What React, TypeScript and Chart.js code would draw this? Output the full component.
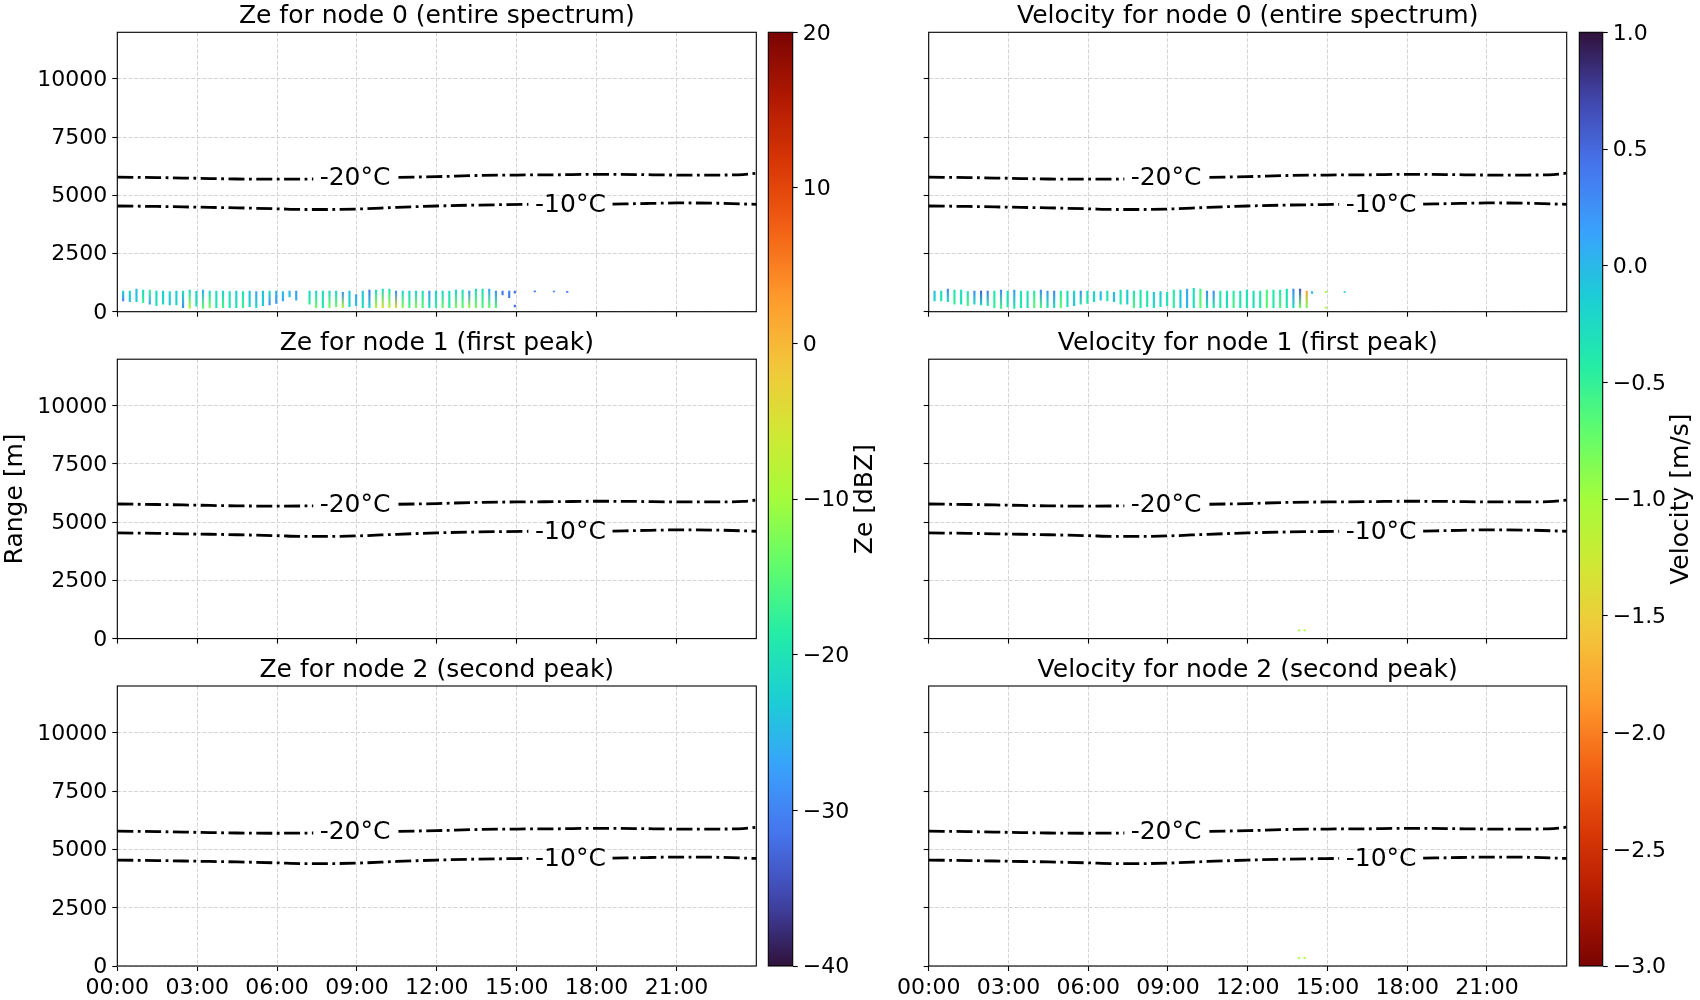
import React, { useEffect, useRef } from 'react';
import { Chart, registerables } from 'chart.js';

Chart.register(...registerables);

const FONT = 'DejaVu Sans';
Chart.defaults.font.family = FONT;
Chart.defaults.color = '#000';

// ---------------- data ----------------
const X_TICK_HOURS = [0, 3, 6, 9, 12, 15, 18, 21];
const X_TICK_LABELS = ['00:00', '03:00', '06:00', '09:00', '12:00', '15:00', '18:00', '21:00'];
const RANGE_TICKS = [0, 2500, 5000, 7500, 10000];
const RANGE_TICK_LABELS = ['0', '2500', '5000', '7500', '10000'];
const HOUR_MIN = 0;
const HOUR_MAX = 24;
const RANGE_MIN = 0;
const RANGE_MAX = 12000;

const ZE_MIN = -40;
const ZE_MAX = 20;
const ZE_CB_TICKS = [-40, -30, -20, -10, 0, 10, 20];
const ZE_CB_LABELS = ['\u221240', '\u221230', '\u221220', '\u221210', '0', '10', '20'];
const VEL_MIN = -3;
const VEL_MAX = 1;
const VEL_CB_TICKS = [-3, -2.5, -2, -1.5, -1, -0.5, 0, 0.5, 1];
const VEL_CB_LABELS = ['\u22123.0', '\u22122.5', '\u22122.0', '\u22121.5', '\u22121.0', '\u22120.5', '0.0', '0.5', '1.0'];

// isotherms (two pieces each, interrupted by the inline label)
const ISO20_A_HOURS = [0, 1.5, 3, 4.5, 6, 7.36];
const ISO20_A_RANGE = [5780, 5760, 5730, 5700, 5690, 5700];
const ISO20_B_HOURS = [10.56, 12, 13.5, 15, 16.5, 18, 19.5, 21, 22.5, 23.5, 24];
const ISO20_B_RANGE = [5770, 5800, 5850, 5870, 5880, 5900, 5890, 5870, 5870, 5890, 5950];
const ISO10_A_HOURS = [0, 1.5, 3, 4.5, 6, 7, 8, 9, 10.5, 12, 13.5, 15.44];
const ISO10_A_RANGE = [4540, 4520, 4490, 4460, 4420, 4390, 4390, 4410, 4480, 4540, 4580, 4610];
const ISO10_B_HOURS = [18.6, 20, 21, 22.5, 24];
const ISO10_B_RANGE = [4620, 4650, 4670, 4660, 4610];
const ISO_LABEL_TEXT = ['-20\u00b0C', '-10\u00b0C'];
const ISO_LABEL_HOURS = [8.93, 17.02];
const ISO_LABEL_RANGE = [5730, 4550];

// Ze node 0 profiles: time [h], base [m], top [m], Ze at base, Ze at top [dBZ]
const ZE0_HOURS = [0.22, 0.47, 0.72, 0.97, 1.22, 1.47, 1.72, 1.97, 2.22, 2.47, 2.72, 2.97, 3.22, 3.47, 3.72, 3.97, 4.22, 4.47, 4.72, 4.97, 5.22, 5.47, 5.72, 5.97, 6.22, 6.47, 6.72,
  7.22, 7.47, 7.72, 7.97, 8.22, 8.47, 8.72, 8.97, 9.22, 9.47, 9.72, 9.97, 10.22, 10.47, 10.72, 10.97, 11.22, 11.47, 11.72, 11.97, 12.22, 12.47, 12.72, 12.97, 13.22, 13.47, 13.72, 13.97, 14.22, 14.47, 14.72, 14.93,
  14.93, 15.68, 16.4, 16.9];
const ZE0_BASE = [460, 430, 430, 390, 320, 260, 320, 290, 290, 170, 145, 240, 145, 170, 170, 170, 170, 170, 170, 215, 170, 260, 290, 360, 460, 640, 500,
  320, 170, 170, 170, 215, 170, 215, 260, 170, 170, 170, 170, 170, 170, 170, 170, 170, 170, 170, 170, 170, 170, 170, 170, 170, 170, 170, 170, 170, 720, 600, 800,
  200, 850, 850, 830];
const ZE0_TOP = [890, 890, 970, 930, 930, 890, 890, 860, 890, 890, 930, 880, 930, 890, 890, 890, 860, 890, 860, 890, 860, 890, 890, 890, 860, 890, 890,
  890, 890, 890, 890, 890, 830, 890, 740, 890, 930, 930, 970, 970, 890, 890, 890, 890, 890, 890, 890, 890, 890, 930, 930, 890, 970, 970, 970, 890, 890, 890, 890,
  280, 900, 890, 880];
const ZE0_LOW = [-30, -24, -23, -17, -27, -20, -21, -24, -22, -29, -9, -20, -14, -13, -19, -16, -19, -20, -17, -22, -21, -23, -29, -28, -27, -24, -26,
  -18, -14, -19, -13, -14, -9, -21, -24, -20, -22, -8, -5, -8, -4, -12, -16, -12, -15, -20, -18, -14, -18, -13, -14, -11, -13, -15, -14, -15, -31, -31, -32,
  -32, -31, -30, -31];
const ZE0_HIGH = [-22, -22, -25, -21, -17, -22, -23, -22, -23, -20, -22, -22, -26, -22, -21, -22, -21, -23, -20, -24, -27, -24, -21, -25, -24, -26, -28,
  -22, -22, -21, -22, -22, -29, -24, -27, -24, -31, -21, -21, -20, -29, -22, -22, -22, -21, -28, -22, -22, -21, -22, -21, -28, -21, -21, -27, -29, -31, -30, -32,
  -32, -31, -30, -31];

// Velocity node 0 profiles: time [h], base [m], top [m], velocity at base, velocity at top [m/s]
const VEL0_HOURS = [0.22, 0.47, 0.72, 0.97, 1.22, 1.47, 1.72, 1.97, 2.22, 2.47, 2.72, 2.97, 3.22, 3.47, 3.72, 3.97, 4.22, 4.47, 4.72, 4.97,
  5.22, 5.47, 5.72, 5.97, 6.22, 6.47, 6.72, 6.97, 7.22, 7.47, 7.72, 7.97, 8.22, 8.47, 8.72, 8.97, 9.22, 9.47, 9.72, 9.97,
  10.22, 10.47, 10.72, 10.97, 11.22, 11.47, 11.72, 11.97, 12.22, 12.47, 12.72, 12.97, 13.22, 13.47, 13.72, 13.97, 14.22,
  14.42, 14.94, 14.94, 15.65];
const VEL0_BASE = [460, 460, 430, 320, 320, 260, 320, 290, 260, 170, 145, 200, 145, 170, 170, 170, 170, 170, 170, 170,
  215, 260, 320, 360, 430, 500, 460, 430, 320, 320, 170, 170, 215, 170, 215, 260, 170, 170, 170, 170,
  170, 170, 170, 170, 170, 170, 170, 170, 170, 170, 170, 170, 170, 170, 170, 170, 170,
  790, 150, 830, 830];
const VEL0_TOP = [890, 890, 970, 930, 930, 860, 890, 890, 890, 890, 930, 890, 930, 890, 890, 890, 930, 890, 890, 890,
  890, 890, 890, 890, 860, 860, 890, 830, 930, 930, 890, 930, 890, 830, 860, 830, 930, 930, 970, 1000,
  970, 890, 890, 890, 890, 890, 890, 930, 890, 890, 930, 930, 930, 970, 970, 970, 890,
  860, 200, 880, 860];
const VEL0_LOW = [-0.2, -0.35, -0.3, -0.5, -0.3, -0.6, -0.3, -0.2, -0.4, -0.5, -0.6, -0.4, -0.4, -0.4, -0.3, -0.7, -0.6, -0.4, -0.3, -0.7,
  -0.3, -0.1, -0.4, -0.4, -0.3, -0.1, -0.4, -0.1, -0.4, -0.2, -0.6, -0.4, -0.4, -0.3, -0.3, -0.35, -0.5, -0.1, 0.0, -0.3,
  -0.7, -0.4, -0.4, -0.4, -0.3, -0.6, -0.4, -0.4, -0.3, -0.4, -0.7, -0.4, -0.6, -0.4, -0.3, -0.8, -0.8,
  0.0, -1.0, -1.0, -0.1];
const VEL0_HIGH = [0.0, -0.3, 0.3, -0.35, -0.3, -0.3, 0.3, 0.55, 0.4, -0.4, 0.3, -0.3, 0.2, -0.35, -0.35, -0.4, 0.3, 0.2, 0.3, -0.4,
  -0.3, -0.2, 0.3, -0.3, -0.2, 0.0, -0.3, 0.0, -0.3, -0.1, -0.35, -0.35, -0.35, -0.1, -0.1, -0.3, -0.4, -0.1, 0.1, -0.3,
  -0.6, 0.3, 0.3, -0.4, -0.3, -0.4, -0.3, -0.3, -0.3, -0.4, -0.6, -0.4, -0.4, -0.3, 0.3, 0.6, -1.8,
  0.0, -1.0, -1.0, -0.1];

// Velocity nodes 1 and 2 (only a few isolated cells)
const VEL1_HOURS = [13.93, 14.14];
const VEL1_BASE = [330, 330];
const VEL1_TOP = [380, 380];
const VEL1_LOW = [-1.0, -1.0];
const VEL1_HIGH = [-1.0, -1.0];
const VEL2_HOURS = [13.93, 14.14];
const VEL2_BASE = [320, 320];
const VEL2_TOP = [370, 370];
const VEL2_LOW = [-1.0, -1.0];
const VEL2_HIGH = [-1.0, -1.0];

const EMPTY: number[] = [];

// ---------------- colour map (turbo) ----------------
const TURBO = ['#30123b', '#4145ab', '#4675ed', '#39a2fc', '#1bcfd4', '#24eca6', '#61fc6c', '#a4fc3b',
  '#d1e834', '#f3c63a', '#fe9b2d', '#f36315', '#d93806', '#b11901', '#7a0402'];
const TURBO_RGB = TURBO.map((h) => [parseInt(h.slice(1, 3), 16), parseInt(h.slice(3, 5), 16), parseInt(h.slice(5, 7), 16)]);
function turbo(t: number): string {
  const tt = Math.max(0, Math.min(1, t));
  const n = TURBO_RGB.length - 1;
  const f = tt * n;
  const i = Math.min(Math.floor(f), n - 1);
  const u = f - i;
  const a = TURBO_RGB[i];
  const b = TURBO_RGB[i + 1];
  const c = [0, 1, 2].map((k) => Math.round(a[k] + (b[k] - a[k]) * u));
  return `rgb(${c[0]},${c[1]},${c[2]})`;
}
const zeColor = (v: number) => turbo((v - ZE_MIN) / (ZE_MAX - ZE_MIN));
const velColor = (v: number) => turbo(1 - (v - VEL_MIN) / (VEL_MAX - VEL_MIN));

// ---------------- helpers ----------------
type Profile = { x: number; y: [number, number]; lo: number; hi: number };
function buildProfiles(h: number[], b: number[], t: number[], lo: number[], hi: number[]): Profile[] {
  return h.map((x, i) => ({ x, y: [b[i], t[i]], lo: lo[i], hi: hi[i] }));
}
function pts(h: number[], r: number[]) {
  return h.map((x, i) => ({ x, y: r[i] }));
}

const GRID_COLOR = '#d4d4d4';
const TICK_FONT = { family: FONT, size: 22 };
const LABEL_FONT_SIZE = 25;

const framePlugin = {
  id: 'frame',
  afterDatasetsDraw(chart: any) {
    const { ctx, chartArea: a } = chart;
    ctx.save();
    ctx.strokeStyle = '#000';
    ctx.lineWidth = 1.1;
    ctx.strokeRect(a.left, a.top, a.right - a.left, a.bottom - a.top);
    ctx.restore();
  },
};

const isoLabelPlugin = {
  id: 'isoLabels',
  afterDatasetsDraw(chart: any) {
    const { ctx } = chart;
    const xs = chart.scales.x;
    const ys = chart.scales.y;
    ctx.save();
    ctx.fillStyle = '#000';
    ctx.font = `${LABEL_FONT_SIZE}px "${FONT}"`;
    ctx.textAlign = 'center';
    ctx.textBaseline = 'middle';
    ISO_LABEL_TEXT.forEach((txt, i) => {
      ctx.fillText(txt, xs.getPixelForValue(ISO_LABEL_HOURS[i]), ys.getPixelForValue(ISO_LABEL_RANGE[i]));
    });
    ctx.restore();
  },
};

function cbLabelPlugin(text: string, offset: number) {
  return {
    id: 'cbLabel',
    afterDraw(chart: any) {
      const { ctx, chartArea: a } = chart;
      ctx.save();
      ctx.translate(a.right + offset, (a.top + a.bottom) / 2);
      ctx.rotate(-Math.PI / 2);
      ctx.fillStyle = '#000';
      ctx.font = `${LABEL_FONT_SIZE}px "${FONT}"`;
      ctx.textAlign = 'center';
      ctx.textBaseline = 'middle';
      ctx.fillText(text, 0, 0);
      ctx.restore();
    },
  };
}

const COLS = [
  { left: 0, width: 762, padRight: 5.7, yAxisW: 117.3, showY: true },
  { left: 846, width: 724, padRight: 3.3, yAxisW: 82.7, showY: false },
];
const ROWS = [
  { top: 0, height: 340, titleTop: 4.3, titleBottom: 3.0, padBottom: 8.3, xAxisH: 20, showX: false },
  { top: 326, height: 340, titleTop: 5.2, titleBottom: 3.0, padBottom: 7.4, xAxisH: 20, showX: false },
  { top: 653, height: 347, titleTop: 5.0, titleBottom: 3.0, padBottom: 0, xAxisH: 34, showX: true },
];

function isoDataset(data: { x: number; y: number }[]) {
  return {
    type: 'line',
    data,
    borderColor: '#000',
    borderWidth: 2.8,
    borderDash: [16, 4.5, 2.8, 4.5],
    pointRadius: 0,
    cubicInterpolationMode: 'monotone',
    order: 0,
  };
}

function panelConfig(title: string, profiles: Profile[], colorFn: (v: number) => string, col: number, row: number, yTitle?: string) {
  const C = COLS[col];
  const R = ROWS[row];
  return {
    type: 'bar',
    data: {
      datasets: [
        {
          type: 'bar',
          data: profiles,
          barThickness: 1.5,
          grouped: false,
          borderWidth: 0,
          order: 1,
          backgroundColor: (c: any) => {
            const raw = c.raw as Profile | undefined;
            if (!raw || !c.chart.chartArea) return 'rgba(0,0,0,0)';
            const ys = c.chart.scales.y;
            const p0 = ys.getPixelForValue(raw.y[0]);
            const p1 = ys.getPixelForValue(raw.y[1]);
            const g = c.chart.ctx.createLinearGradient(0, p0, 0, p1 - 0.01);
            g.addColorStop(0, colorFn(raw.lo));
            g.addColorStop(1, colorFn(raw.hi));
            return g;
          },
        },
        isoDataset(pts(ISO20_A_HOURS, ISO20_A_RANGE)),
        isoDataset(pts(ISO20_B_HOURS, ISO20_B_RANGE)),
        isoDataset(pts(ISO10_A_HOURS, ISO10_A_RANGE)),
        isoDataset(pts(ISO10_B_HOURS, ISO10_B_RANGE)),
      ],
    },
    options: {
      responsive: false,
      animation: false,
      events: [],
      layout: { padding: { left: 0, right: C.padRight, top: 0, bottom: R.padBottom } },
      plugins: {
        legend: { display: false },
        tooltip: { enabled: false },
        title: {
          display: true,
          fullSize: false,
          text: title,
          color: '#000',
          font: { family: FONT, size: LABEL_FONT_SIZE, weight: 'normal', lineHeight: 1 },
          padding: { top: R.titleTop, bottom: R.titleBottom },
        },
      },
      scales: {
        x: {
          type: 'linear',
          min: HOUR_MIN,
          max: HOUR_MAX,
          offset: false,
          afterBuildTicks: (s: any) => {
            s.ticks = X_TICK_HOURS.map((v) => ({ value: v }));
          },
          afterFit: (s: any) => {
            s.height = R.xAxisH;
          },
          ticks: {
            display: R.showX,
            autoSkip: false,
            maxRotation: 0,
            minRotation: 0,
            color: '#000',
            font: TICK_FONT,
            padding: 4,
            callback: (_v: any, i: number) => X_TICK_LABELS[i],
          },
          grid: { offset: false, color: GRID_COLOR, lineWidth: 1, tickLength: 5, tickColor: '#000', tickWidth: 1.1 },
          border: { display: false, dash: [4, 1.7] },
        },
        y: {
          type: 'linear',
          min: RANGE_MIN,
          max: RANGE_MAX,
          beginAtZero: true,
          afterBuildTicks: (s: any) => {
            s.ticks = RANGE_TICKS.map((v) => ({ value: v }));
          },
          afterFit: (s: any) => {
            s.width = C.yAxisW;
          },
          ticks: {
            display: C.showY,
            color: '#000',
            font: TICK_FONT,
            padding: 5,
            labelOffset: 1.2,
            callback: (_v: any, i: number) => RANGE_TICK_LABELS[i],
          },
          title: yTitle
            ? {
                display: true,
                text: yTitle,
                color: '#000',
                font: { family: FONT, size: LABEL_FONT_SIZE, lineHeight: 1 },
                padding: { top: 3, bottom: 0 },
              }
            : { display: false },
          grid: { color: GRID_COLOR, lineWidth: 1, tickLength: 5, tickColor: '#000', tickWidth: 1.1 },
          border: { display: false, dash: [4, 1.7] },
        },
      },
    },
    plugins: [framePlugin, isoLabelPlugin],
  };
}

function colorbarConfig(min: number, max: number, colorFn: (v: number) => string, ticks: number[], labels: string[], padLeft: number, label: string, labelOffset: number) {
  return {
    type: 'bar',
    data: {
      labels: [''],
      datasets: [
        {
          data: [[min, max]],
          barPercentage: 1,
          categoryPercentage: 1,
          borderWidth: 0,
          backgroundColor: (c: any) => {
            const a = c.chart.chartArea;
            if (!a) return '#888';
            const g = c.chart.ctx.createLinearGradient(0, a.bottom, 0, a.top);
            const N = 64;
            for (let i = 0; i <= N; i++) {
              g.addColorStop(i / N, colorFn(min + ((max - min) * i) / N));
            }
            return g;
          },
        },
      ],
    },
    options: {
      responsive: false,
      animation: false,
      events: [],
      layout: { padding: { left: padLeft, right: 0, top: 32.3, bottom: 34 } },
      plugins: { legend: { display: false }, tooltip: { enabled: false }, title: { display: false } },
      scales: {
        x: { display: false },
        y: {
          position: 'right',
          min,
          max,
          afterBuildTicks: (s: any) => {
            s.ticks = ticks.map((v) => ({ value: v }));
          },
          afterFit: (s: any) => {
            s.width = 97.3;
          },
          ticks: {
            color: '#000',
            font: TICK_FONT,
            padding: 5,
            labelOffset: 1.5,
            callback: (_v: any, i: number) => labels[i],
          },
          grid: { drawOnChartArea: false, tickLength: 5, tickColor: '#000', tickWidth: 1.1, color: '#000' },
          border: { display: false },
        },
      },
    },
    plugins: [framePlugin, cbLabelPlugin(label, labelOffset)],
  };
}

function ChartBox({ left, top, width, height, build }: { left: number; top: number; width: number; height: number; build: () => any }) {
  const ref = useRef<HTMLCanvasElement>(null);
  useEffect(() => {
    const chart = new Chart(ref.current as HTMLCanvasElement, build());
    return () => chart.destroy();
  }, []);
  return <canvas ref={ref} width={width} height={height} style={{ position: 'absolute', left, top, width, height }} />;
}

const PANELS = [
  { title: 'Ze for node 0 (entire spectrum)', col: 0, row: 0, prof: () => buildProfiles(ZE0_HOURS, ZE0_BASE, ZE0_TOP, ZE0_LOW, ZE0_HIGH), color: zeColor },
  { title: 'Ze for node 1 (first peak)', col: 0, row: 1, prof: () => buildProfiles(EMPTY, EMPTY, EMPTY, EMPTY, EMPTY), color: zeColor, yTitle: 'Range [m]' },
  { title: 'Ze for node 2 (second peak)', col: 0, row: 2, prof: () => buildProfiles(EMPTY, EMPTY, EMPTY, EMPTY, EMPTY), color: zeColor },
  { title: 'Velocity for node 0 (entire spectrum)', col: 1, row: 0, prof: () => buildProfiles(VEL0_HOURS, VEL0_BASE, VEL0_TOP, VEL0_LOW, VEL0_HIGH), color: velColor },
  { title: 'Velocity for node 1 (first peak)', col: 1, row: 1, prof: () => buildProfiles(VEL1_HOURS, VEL1_BASE, VEL1_TOP, VEL1_LOW, VEL1_HIGH), color: velColor },
  { title: 'Velocity for node 2 (second peak)', col: 1, row: 2, prof: () => buildProfiles(VEL2_HOURS, VEL2_BASE, VEL2_TOP, VEL2_LOW, VEL2_HIGH), color: velColor },
];

export default function App() {
  return (
    <div style={{ position: 'absolute', left: 0, top: 0, width: 1700, height: 1000, background: '#fff', overflow: 'hidden' }}>
      {PANELS.map((p, i) => (
        <ChartBox
          key={i}
          left={COLS[p.col].left}
          top={ROWS[p.row].top}
          width={COLS[p.col].width}
          height={ROWS[p.row].height}
          build={() => panelConfig(p.title, p.prof(), p.color, p.col, p.row, (p as any).yTitle)}
        />
      ))}
      <ChartBox left={760} top={0} width={130} height={1000}
        build={() => colorbarConfig(ZE_MIN, ZE_MAX, zeColor, ZE_CB_TICKS, ZE_CB_LABELS, 8.3, 'Ze [dBZ]', 72.5)} />
      <ChartBox left={1570} top={0} width={130} height={1000}
        build={() => colorbarConfig(VEL_MIN, VEL_MAX, velColor, VEL_CB_TICKS, VEL_CB_LABELS, 9.3, 'Velocity [m/s]', 79)} />
    </div>
  );
}
